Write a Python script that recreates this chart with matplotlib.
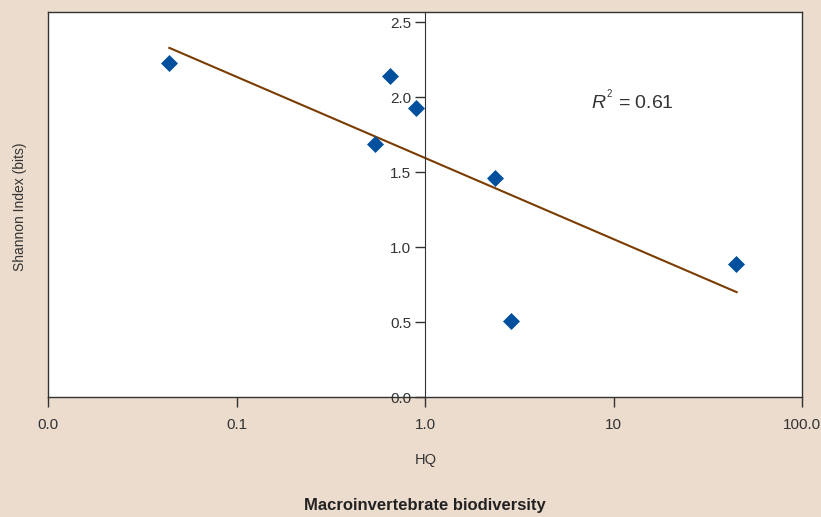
import numpy as np
import matplotlib
matplotlib.use("Agg")
import matplotlib.pyplot as plt
from matplotlib.ticker import FixedLocator, FixedFormatter, NullLocator

plt.rcParams['font.family'] = ['Liberation Sans', 'DejaVu Sans']
plt.rcParams['mathtext.fontset'] = 'custom'
plt.rcParams['mathtext.rm'] = 'Liberation Sans'
plt.rcParams['mathtext.it'] = 'Liberation Sans:italic'

# data
hq = [0.044, 0.65, 0.90, 0.54, 2.35, 2.86, 44.7]
shannon = [2.23, 2.14, 1.93, 1.69, 1.46, 0.51, 0.89]
fit_x = [0.044, 45.0]
fit_y = [2.33, 0.70]

xticks = [0.01, 0.1, 1.0, 10, 100]
xticklabels = ["0.0", "0.1", "1.0", "10", "100.0"]
yticks = [0.0, 0.5, 1.0, 1.5, 2.0, 2.5]
yticklabels = ["0.0", "0.5", "1.0", "1.5", "2.0", "2.5"]

bg = "#ecdccd"
txt = "#333333"

fig = plt.figure(figsize=(8.21, 5.17), dpi=100, facecolor=bg)
ax = fig.add_axes([0.0585, 0.232, 0.9184, 0.745], facecolor="white")

ax.set_xscale("log")
ax.set_xlim(0.01, 100)
ax.set_ylim(0, 2.57)

ax.plot(fit_x, fit_y, color="#7a3c00", lw=1.5, zorder=2)
ax.scatter(hq, shannon, marker="D", s=75, color="#00509e", zorder=3, linewidths=0)

# frame
for s in ["top", "right", "bottom"]:
    ax.spines[s].set_color(txt)
    ax.spines[s].set_linewidth(1.0)
ax.spines["left"].set_position(("data", 1.0))
ax.spines["left"].set_color(txt)
ax.axvline(0.01, color=txt, lw=1.0, clip_on=False, zorder=5)

ax.xaxis.set_major_locator(FixedLocator(xticks))
ax.xaxis.set_major_formatter(FixedFormatter(xticklabels))
ax.xaxis.set_minor_locator(NullLocator())
ax.yaxis.set_major_locator(FixedLocator(yticks))
ax.yaxis.set_major_formatter(FixedFormatter(yticklabels))
ax.tick_params(axis="both", length=7, width=1.0, color=txt, labelcolor=txt,
               labelsize=11, direction="out")
ax.tick_params(axis="x", pad=8)
ax.tick_params(axis="y", pad=3)

ax.text(7.6, 1.98, r"$\mathit{R}^{\mathregular{^2}}$ = 0.61", fontsize=14, color=txt,
        ha="left", va="center")

fig.text(0.024, 0.6, "Shannon Index (bits)", rotation=90, ha="center",
         va="center", fontsize=10, color=txt)
fig.text(0.518, 0.11, "HQ", ha="center", va="center", fontsize=10.5, color=txt)
fig.text(0.518, 0.022, "Macroinvertebrate biodiversity", ha="center",
         va="center", fontsize=12, fontweight="bold", color="#222222")

fig.savefig("out.png", dpi=100, facecolor=bg)
